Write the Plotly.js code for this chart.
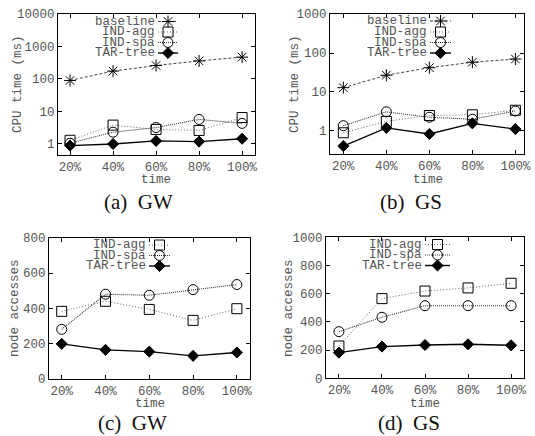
<!DOCTYPE html>
<html>
<head>
<meta charset="utf-8">
<script src="https://cdn.plot.ly/plotly-3.0.1.min.js"></script>
<style>html,body{margin:0;padding:0;background:#fff}#chart{width:535px;height:436px}</style>
</head>
<body>
<div id="chart"></div>
<script>
// ---------- data ----------
const categories = ['20%', '40%', '60%', '80%', '100%'];
const seriesNames = ['baseline', 'IND-agg', 'IND-spa', 'TAR-tree'];

// (a) GW - CPU time (ms)
const gwCpuBaseline = [90, 175, 260, 360, 470];
const gwCpuIndAgg   = [1.3, 3.8, 2.8, 2.6, 6.5];
const gwCpuIndSpa   = [1.05, 2.3, 3.2, 5.7, 4.3];
const gwCpuTarTree  = [0.89, 1.0, 1.24, 1.18, 1.45];
// (b) GS - CPU time (ms)
const gsCpuBaseline = [12.9, 27, 42, 58, 70];
const gsCpuIndAgg   = [0.9, 1.77, 2.5, 2.6, 3.4];
const gsCpuIndSpa   = [1.37, 3.1, 2.25, 2.0, 3.25];
const gsCpuTarTree  = [0.41, 1.2, 0.84, 1.57, 1.12];
// (c) GW - node accesses
const gwNodeIndAgg  = [383, 440, 394, 332, 398];
const gwNodeIndSpa  = [281, 480, 474, 506, 535];
const gwNodeTarTree = [199, 165, 155, 131, 150];
// (d) GS - node accesses
const gsNodeIndAgg  = [229, 565, 619, 641, 674];
const gsNodeIndSpa  = [331, 433, 515, 515, 515];
const gsNodeTarTree = [182, 225, 236, 241, 234];

const logTickVals = [1, 10, 100, 1000, 10000];
const logTickText = ['1', '10', '100', '1000', '10000'];

// ---------- styles ----------
const W = 535, H = 436;
const MONO = 'Liberation Mono, Courier New, monospace';
const SERIF = 'Liberation Serif, Times New Roman, serif';
const TXT = '#555';
const FS = 12.5;
const styles = {
  'baseline': {symbol: 'asterisk-open', size: 10, dash: '3px,2px', width: 1, lc: '#444'},
  'IND-agg':  {symbol: 'square-open',   size: 10, dash: '1px,2px', width: 1, lc: '#666'},
  'IND-spa':  {symbol: 'circle-open',   size: 10, dash: '1px,1px', width: 1.1, lc: '#333'},
  'TAR-tree': {symbol: 'diamond',       size: 8.5, dash: 'solid',  width: 1.4, lc: '#000'}
};

function px2fx(p) { return p / W; }
function px2fy(p) { return 1 - p / H; }

// panels: pixel boxes and ranges
const panels = [
  {id: 1, box: [58, 255, 14, 155], xr: [-0.28, 4.30], log: true, yr: [-0.34, 4],
   series: {'baseline': gwCpuBaseline, 'IND-agg': gwCpuIndAgg, 'IND-spa': gwCpuIndSpa, 'TAR-tree': gwCpuTarTree},
   ytitle: 'CPU time (ms)', yt: [18, 84], xt: [156, 180], cap: '(a)  GW', cp: [138, 202],
   leg: {textRight: 156, k0: 158, k1: 178, rows: [21.5, 32, 42.5, 53]}},
  {id: 2, box: [330, 524, 14, 154], xr: [-0.31, 4.20], log: true, yr: [-0.59, 3],
   series: {'baseline': gsCpuBaseline, 'IND-agg': gsCpuIndAgg, 'IND-spa': gsCpuIndSpa, 'TAR-tree': gsCpuTarTree},
   ytitle: 'CPU time (ms)', yt: [295, 84], xt: [428, 180], cap: '(b)  GS', cp: [411, 202],
   leg: {textRight: 428, k0: 430, k1: 451, rows: [21, 32, 42.5, 53]}},
  {id: 3, box: [49, 250, 237.7, 379], xr: [-0.29, 4.30], log: false, yr: [0, 800], dtick: 200,
   series: {'IND-agg': gwNodeIndAgg, 'IND-spa': gwNodeIndSpa, 'TAR-tree': gwNodeTarTree},
   ytitle: 'node accesses', yt: [15, 308], xt: [150, 403.5], cap: '(c)  GW', cp: [132.5, 423],
   leg: {textRight: 147, k0: 149, k1: 170, rows: [245, 255.5, 266]}},
  {id: 4, box: [326, 524, 237.3, 378.3], xr: [-0.30, 4.30], log: false, yr: [0, 1000], dtick: 200,
   series: {'IND-agg': gsNodeIndAgg, 'IND-spa': gsNodeIndSpa, 'TAR-tree': gsNodeTarTree},
   ytitle: 'node accesses', yt: [289, 308], xt: [425, 403.5], cap: '(d)  GS', cp: [408.5, 423],
   leg: {textRight: 423, k0: 425, k1: 450, rows: [244.5, 255, 265.5]}}
];

const traces = [];
const annotations = [];
const layout = {
  width: W, height: H,
  margin: {l: 0, r: 0, t: 0, b: 0},
  paper_bgcolor: '#fff', plot_bgcolor: 'rgba(0,0,0,0)',
  showlegend: false,
  font: {family: MONO, size: FS, color: TXT},
  annotations: annotations
};

panels.forEach(p => {
  const xa = 'xaxis' + p.id, ya = 'yaxis' + p.id;
  layout[xa] = {
    domain: [px2fx(p.box[0]), px2fx(p.box[1])], anchor: 'y' + p.id,
    type: 'category', range: p.xr, tickvals: categories, ticktext: categories,
    showline: true, linecolor: '#000', linewidth: 1, mirror: 'ticks',
    ticks: 'inside', ticklen: 4, tickcolor: '#000', showgrid: false, zeroline: false,
    tickfont: {family: MONO, size: FS, color: TXT}, fixedrange: true, ticklabelstandoff: 0
  };
  layout[ya] = {
    domain: [px2fy(p.box[3]), px2fy(p.box[2])], anchor: 'x' + p.id,
    type: p.log ? 'log' : 'linear', range: p.yr,
    showline: true, linecolor: '#000', linewidth: 1, mirror: 'ticks',
    ticks: 'inside', ticklen: 4, tickcolor: '#000', showgrid: false, zeroline: false,
    tickfont: {family: MONO, size: FS, color: TXT}, fixedrange: true
  };
  if (p.log) { layout[ya].tickvals = logTickVals; layout[ya].ticktext = logTickText; }
  else { layout[ya].dtick = p.dtick; layout[ya].tick0 = 0; }

  Object.keys(p.series).forEach(name => {
    const s = styles[name];
    traces.push({
      type: 'scatter', mode: 'lines+markers', name: name,
      x: categories, y: p.series[name],
      xaxis: 'x' + p.id, yaxis: 'y' + p.id,
      line: {color: s.lc, width: s.width, dash: s.dash},
      marker: {symbol: s.symbol, size: s.size, color: '#000', line: {color: '#000', width: 1}},
      cliponaxis: false, showlegend: false
    });
  });

  // gnuplot-style key: label on the left, sample on the right
  Object.keys(p.series).forEach((name, i) => {
    const s = styles[name];
    const yy = p.leg.rows[i];
    annotations.push({
      xref: 'x9', yref: 'y9', x: p.leg.textRight, y: yy, text: name, showarrow: false,
      xanchor: 'right', yanchor: 'middle', borderpad: 0, font: {family: MONO, size: FS, color: TXT}
    });
    traces.push({
      type: 'scatter', mode: 'lines+markers', xaxis: 'x9', yaxis: 'y9', showlegend: false,
      x: [p.leg.k0, (p.leg.k0 + p.leg.k1) / 2, p.leg.k1], y: [yy, yy, yy],
      line: {color: s.lc, width: s.width, dash: s.dash},
      marker: {symbol: s.symbol, size: s.size, color: '#000', opacity: [0, 1, 0], line: {color: '#000', width: 1}},
      hoverinfo: 'skip'
    });
  });

  annotations.push({xref: 'x9', yref: 'y9', x: p.yt[0], y: p.yt[1], text: p.ytitle, textangle: -90,
    showarrow: false, xanchor: 'center', yanchor: 'middle', font: {family: MONO, size: FS, color: TXT}});
  annotations.push({xref: 'x9', yref: 'y9', x: p.xt[0], y: p.xt[1], text: 'time',
    showarrow: false, xanchor: 'center', yanchor: 'middle', font: {family: MONO, size: FS, color: TXT}});
  annotations.push({xref: 'x9', yref: 'y9', x: p.cp[0], y: p.cp[1], text: p.cap.replace(/  /g, '&nbsp;&nbsp;'),
    showarrow: false, xanchor: 'center', yanchor: 'middle', font: {family: SERIF, size: 21, color: '#111'}});
});

// full-figure helper axes in pixel units (for the key and labels)
layout.xaxis9 = {domain: [0, 1], range: [0, W], visible: false, anchor: 'y9', fixedrange: true};
layout.yaxis9 = {domain: [0, 1], range: [H, 0], visible: false, anchor: 'x9', fixedrange: true};

Plotly.newPlot('chart', traces, layout, {displayModeBar: false, staticPlot: true});
</script>
</body>
</html>
